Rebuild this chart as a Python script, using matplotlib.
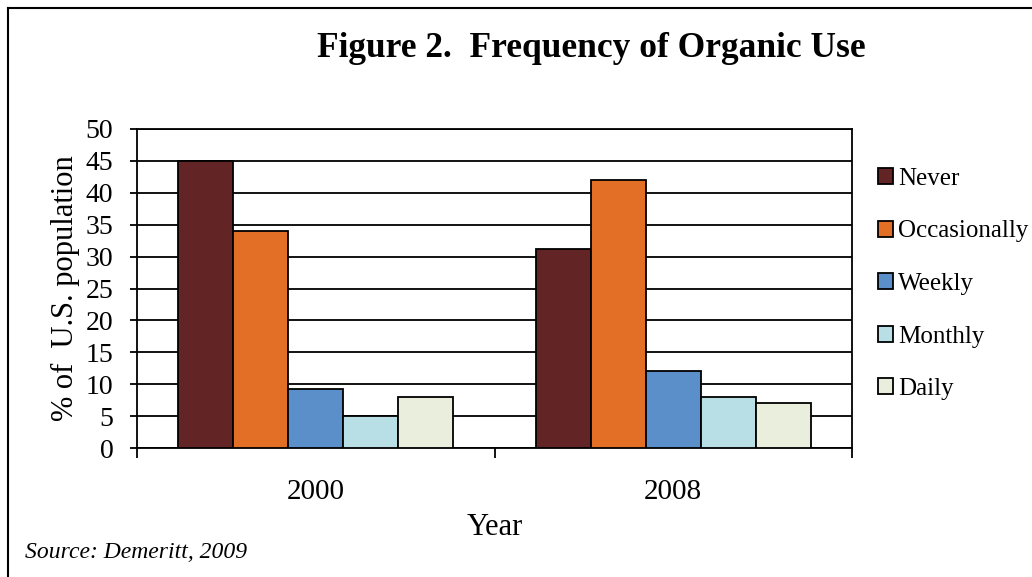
import numpy as np
import matplotlib.pyplot as plt
from matplotlib.lines import Line2D

years = ["2000", "2008"]
categories = ["Never", "Occasionally", "Weekly", "Monthly", "Daily"]
never = [45, 31.2]
occasionally = [34, 42]
weekly = [9.2, 12]
monthly = [5, 8]
daily = [8, 7]
colors = ["#632426", "#e36f26", "#5a8fca", "#b8dfe6", "#e9eedd"]

plt.rcParams['font.family'] = ['Liberation Serif', 'DejaVu Serif']

fig = plt.figure(figsize=(10.32, 5.77), dpi=100)
ax = fig.add_axes([137 / 1032, 1 - 448 / 577, 715 / 1032, 319 / 577])

x = np.arange(len(years))
w = 1 / 6.5
series = [never, occasionally, weekly, monthly, daily]
for i, (vals, name) in enumerate(zip(series, categories)):
    ax.bar(x + (i - 2) * w, vals, w, color=colors[i], edgecolor="black",
           linewidth=1.3, label=name, zorder=3)

ax.set_xlim(-0.5, 1.5)
ax.set_ylim(0, 50)
ax.set_yticks(range(0, 51, 5))
ax.yaxis.grid(True, color="black", linewidth=1.3, zorder=0)
ax.set_xticks(x)
ax.set_xticklabels(years, fontsize=21)
ax.set_xticks([-0.5, 0.5, 1.5], minor=True)
ax.tick_params(axis="x", which="major", length=0, pad=22)
ax.tick_params(axis="x", which="minor", length=7, width=1.3, direction="out")
ax.tick_params(axis="y", labelsize=20, length=5, width=1.3, pad=12)
for s in ax.spines.values():
    s.set_linewidth(1.3)

ax.set_xlabel("Year", fontsize=22, labelpad=6)
ax.set_ylabel("% of  U.S. population", fontsize=22, labelpad=4)

fig.text(0.573, 0.916, "Figure 2.  Frequency of Organic Use", fontsize=25.5,
         fontweight="bold", ha="center", va="center")
fig.text(25 / 1032, 1 - 553 / 577, "Source: Demeritt, 2009", fontsize=17,
         style="italic", ha="left", va="center")

ax.legend(loc="upper left", bbox_to_anchor=(878 / 1032, 1 - 168 / 577),
          bbox_transform=fig.transFigure, frameon=False, fontsize=18,
          handlelength=0.6, handleheight=0.6, handletextpad=0.2,
          labelspacing=1.22, borderpad=0, borderaxespad=0)

fig.add_artist(Line2D([8 / 1032, 8 / 1032], [0, 1 - 8 / 577], color="black", lw=1.5))
fig.add_artist(Line2D([8 / 1032, 1], [1 - 8 / 577, 1 - 8 / 577], color="black", lw=1.5))

fig.savefig("out.png", dpi=100)
